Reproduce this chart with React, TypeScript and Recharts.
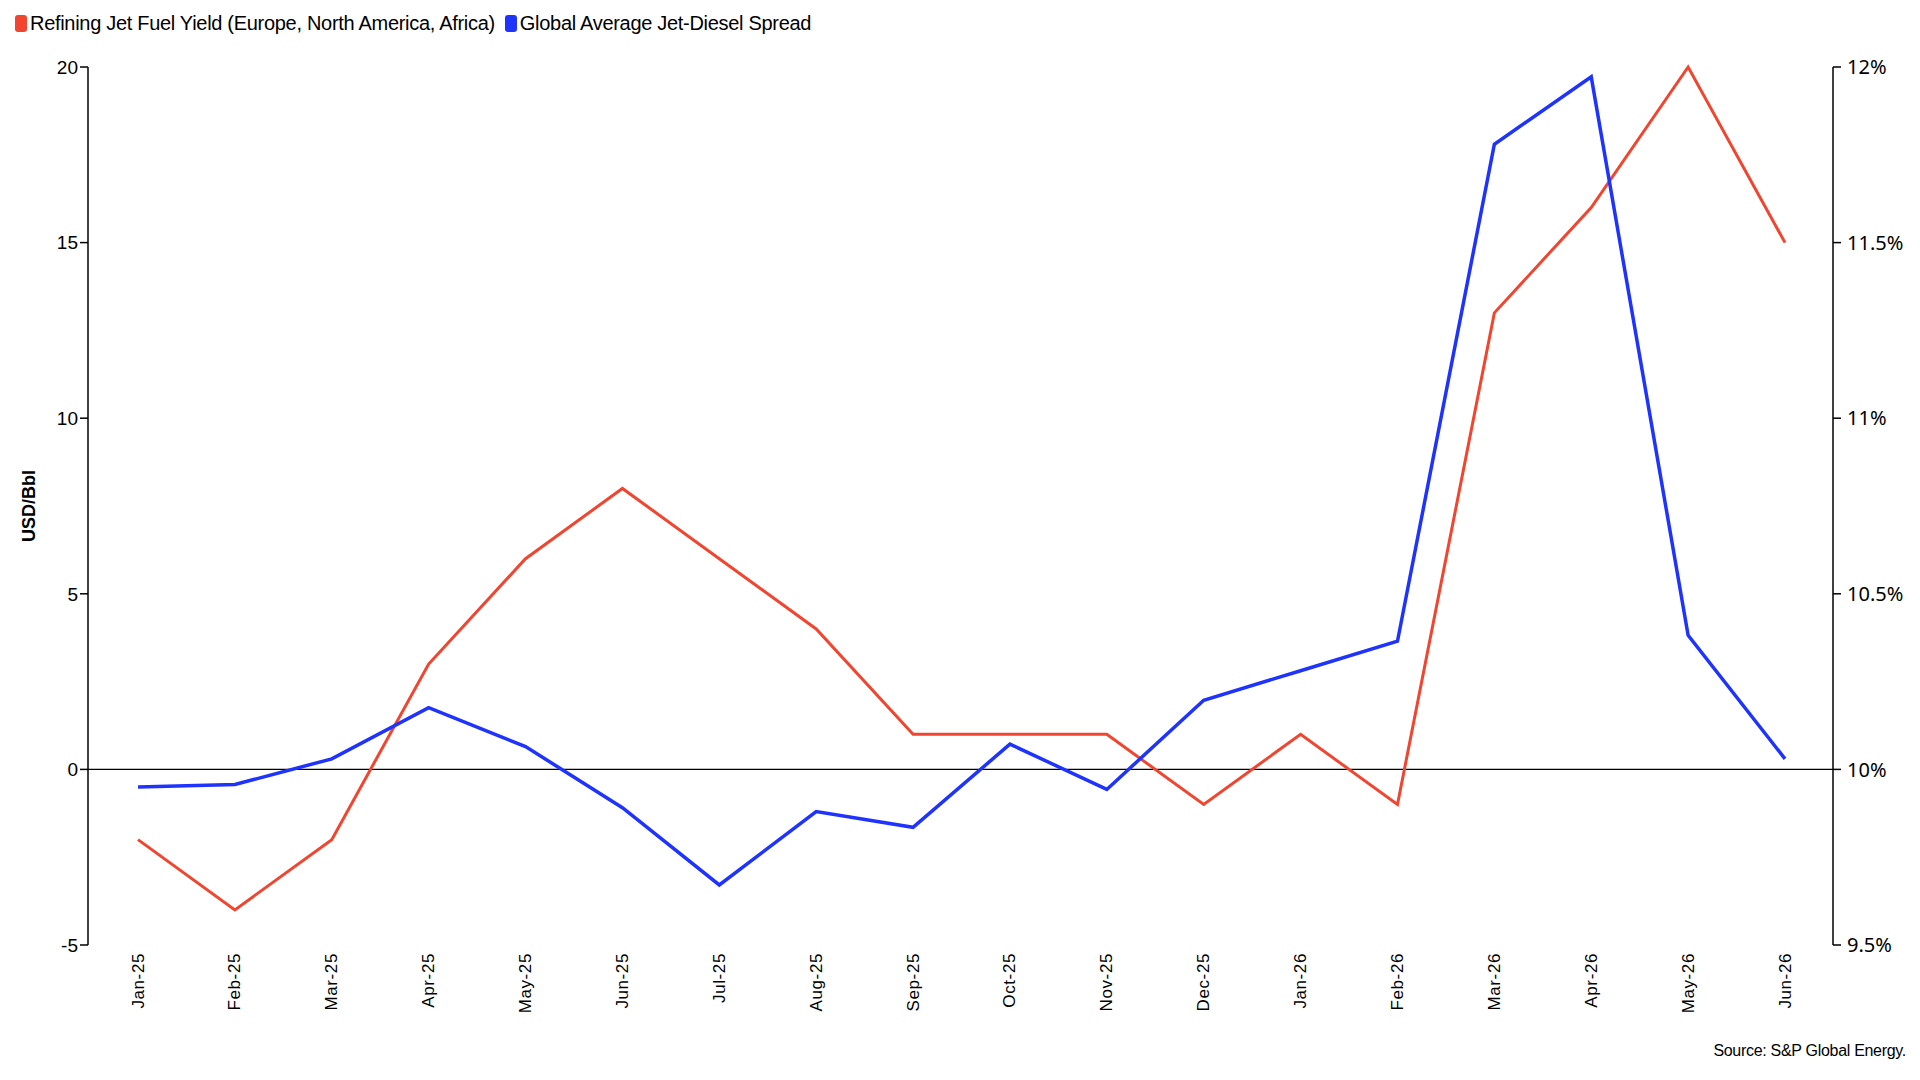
import * as React from "react";
import { LineChart, Line, XAxis, YAxis, ReferenceLine } from "recharts";

const months = [
  "Jan-25", "Feb-25", "Mar-25", "Apr-25", "May-25", "Jun-25", "Jul-25", "Aug-25", "Sep-25",
  "Oct-25", "Nov-25", "Dec-25", "Jan-26", "Feb-26", "Mar-26", "Apr-26", "May-26", "Jun-26",
];

// % (right axis)
const jetYield = [9.8, 9.6, 9.8, 10.3, 10.6, 10.8, 10.6, 10.4, 10.1, 10.1, 10.1, 9.9, 10.1, 9.9, 11.3, 11.6, 12.0, 11.5];

// USD/Bbl (left axis)
const jetDieselSpread = [-0.5, -0.43, 0.3, 1.76, 0.65, -1.09, -3.29, -1.2, -1.65, 0.72, -0.57, 1.97, 2.81, 3.65, 17.8, 19.72, 3.82, 0.3];

const leftTicks = [-5, 0, 5, 10, 15, 20];
const rightTicks = [9.5, 10, 10.5, 11, 11.5, 12];

const RED = "#f2452f";
const BLUE = "#1f33ff";

const data = months.map((m, i) => ({
  month: m,
  yield: jetYield[i],
  spread: jetDieselSpread[i],
}));

function MonthTick(props: any) {
  const { x, y, payload } = props;
  return (
    <text
      x={x}
      y={y}
      transform={`rotate(-90, ${x}, ${y})`}
      textAnchor="end"
      dominantBaseline="central"
      fontFamily="Liberation Sans, Arial, sans-serif"
      fontSize={17}
      letterSpacing={0.6}
      fill="#000"
    >
      {payload.value}
    </text>
  );
}

function LegendItem({ color, label }: { color: string; label: string }) {
  return (
    <span style={{ display: "inline-flex", alignItems: "center", marginRight: 10 }}>
      <span
        style={{
          display: "inline-block",
          width: 12,
          height: 17,
          borderRadius: 3,
          background: color,
          marginRight: 3,
        }}
      />
      {label}
    </span>
  );
}

export default function App() {
  return (
    <div style={{ position: "absolute", left: 0, top: 0, width: 1920, height: 1080, background: "#fff" }}>
      <div
        style={{
          position: "absolute",
          left: 15,
          top: 12,
          display: "flex",
          fontFamily: "Liberation Sans, Arial, sans-serif",
          fontSize: 20,
          color: "#000",
          letterSpacing: -0.3,
        }}
      >
        <LegendItem color={RED} label="Refining Jet Fuel Yield (Europe, North America, Africa)" />
        <LegendItem color={BLUE} label="Global Average Jet-Diesel Spread" />
      </div>

      <div
        style={{
          position: "absolute",
          left: 29,
          top: 506,
          transform: "translate(-50%, -50%) rotate(-90deg)",
          fontFamily: "Liberation Sans, Arial, sans-serif",
          fontWeight: "bold",
          fontSize: 18,
          whiteSpace: "nowrap",
        }}
      >
        USD/Bbl
      </div>

      <LineChart
        width={1920}
        height={1080}
        data={data}
        margin={{ top: 67, right: 7, left: 28, bottom: 35 }}
      >
        <XAxis
          dataKey="month"
          axisLine={false}
          tickLine={false}
          interval={0}
          height={100}
          padding={{ left: 50, right: 48 }}
          tick={<MonthTick />}
          tickMargin={2}
        />
        <YAxis
          yAxisId="left"
          orientation="left"
          width={60}
          domain={[-5, 20]}
          ticks={leftTicks}
          interval={0}
          axisLine={{ stroke: "#000", strokeWidth: 1.5 }}
          tickLine={{ stroke: "#000", strokeWidth: 1.5 }}
          tickSize={8}
          tick={{ fill: "#000", fontSize: 19, fontFamily: "Liberation Sans, Arial, sans-serif" }}
        />
        <YAxis
          yAxisId="right"
          orientation="right"
          width={80}
          domain={[9.5, 12]}
          ticks={rightTicks}
          interval={0}
          axisLine={{ stroke: "#000", strokeWidth: 1.5 }}
          tickLine={{ stroke: "#000", strokeWidth: 1.5 }}
          tickSize={8}
          tickMargin={6}
          tickFormatter={(v: number) => `${v}%`}
          tick={{ fill: "#000", fontSize: 20, fontFamily: "Noto Sans, sans-serif" }}
        />
        <ReferenceLine yAxisId="left" y={0} stroke="#000" strokeWidth={1.2} />
        <Line
          yAxisId="right"
          type="linear"
          dataKey="yield"
          stroke={RED}
          strokeWidth={3}
          dot={false}
          activeDot={false}
          isAnimationActive={false}
        />
        <Line
          yAxisId="left"
          type="linear"
          dataKey="spread"
          stroke={BLUE}
          strokeWidth={3.5}
          dot={false}
          activeDot={false}
          isAnimationActive={false}
        />
      </LineChart>

      <div
        style={{
          position: "absolute",
          right: 14,
          top: 1042,
          fontFamily: "Liberation Sans, Arial, sans-serif",
          fontSize: 16,
          letterSpacing: -0.3,
          color: "#000",
        }}
      >
        Source: S&amp;P Global Energy.
      </div>
    </div>
  );
}
